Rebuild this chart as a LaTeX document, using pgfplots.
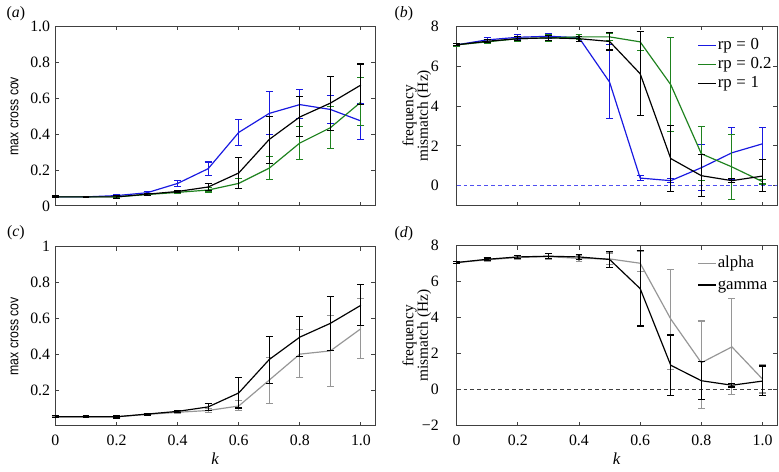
\documentclass[border=0pt]{standalone}
\usepackage{fontspec}
\setmainfont{Liberation Serif}
\newfontfamily\ysans[FakeStretch=0.85]{Liberation Sans}
\usepackage{pgfplots}
\usepackage{pgfplotstable}
\pgfplotsset{compat=1.18}
\definecolor{cblue}{RGB}{25,25,225}
\definecolor{cdash}{RGB}{80,80,240}
\definecolor{cgreen}{RGB}{30,130,30}
\definecolor{cgray}{RGB}{150,150,150}

\pgfplotstableread{
k m lo hi
0 0.05 0.047 0.053
0.1 0.05 0.047 0.053
0.2 0.057 0.052 0.062
0.3 0.073 0.067 0.079
0.4 0.125 0.11 0.139
0.5 0.207 0.169 0.244
0.6 0.409 0.334 0.482
0.7 0.515 0.395 0.636
0.8 0.564 0.485 0.646
0.9 0.537 0.46 0.617
1.0 0.473 0.372 0.569
}\covblue
\pgfplotstableread{
k m lo hi
0 0.05 0.047 0.053
0.1 0.05 0.047 0.053
0.2 0.05 0.046 0.055
0.3 0.063 0.058 0.068
0.4 0.075 0.07 0.08
0.5 0.088 0.077 0.1
0.6 0.125 0.097 0.152
0.7 0.21 0.145 0.275
0.8 0.35 0.259 0.44
0.9 0.435 0.317 0.553
1.0 0.578 0.45 0.715
}\covgreen
\pgfplotstableread{
k m lo hi
0 0.05 0.045 0.055
0.1 0.05 0.046 0.054
0.2 0.05 0.043 0.056
0.3 0.065 0.06 0.07
0.4 0.08 0.072 0.087
0.5 0.105 0.087 0.125
0.6 0.183 0.099 0.268
0.7 0.37 0.235 0.50
0.8 0.495 0.385 0.608
0.9 0.572 0.422 0.72
1.0 0.673 0.562 0.79
}\covblack
\pgfplotstableread{
k m lo hi
0 0.05 0.047 0.053
0.1 0.05 0.047 0.053
0.2 0.05 0.046 0.054
0.3 0.063 0.058 0.068
0.4 0.075 0.07 0.08
0.5 0.085 0.075 0.095
0.6 0.11 0.085 0.14
0.7 0.255 0.124 0.383
0.8 0.40 0.267 0.536
0.9 0.418 0.221 0.617
1.0 0.542 0.378 0.713
}\covgray
\pgfplotstableread{
k m lo hi
0 7.07 7.0 7.14
0.1 7.32 7.2 7.42
0.2 7.45 7.33 7.57
0.3 7.5 7.38 7.62
0.4 7.43 7.25 7.6
0.5 5.2 3.37 7.1
0.6 0.38 0.25 0.5
0.7 0.25 0.15 0.35
0.8 0.9 -0.25 2.07
0.9 1.65 0.3 2.94
1.0 2.1 1.3 2.9
}\fqblue
\pgfplotstableread{
k m lo hi
0 7.07 7.0 7.14
0.1 7.22 7.12 7.32
0.2 7.38 7.25 7.5
0.3 7.42 7.25 7.6
0.4 7.47 7.35 7.6
0.5 7.47 7.3 7.62
0.6 7.22 6.78 7.75
0.7 5.07 2.7 7.43
0.8 1.6 0.28 2.96
0.9 0.94 -0.68 2.55
1.0 0.2 0.08 0.32
}\fqgreen
\pgfplotstableread{
k m lo hi
0 7.07 7.02 7.12
0.1 7.25 7.18 7.32
0.2 7.38 7.28 7.48
0.3 7.42 7.3 7.55
0.4 7.38 7.25 7.5
0.5 7.24 6.81 7.69
0.6 5.62 3.54 7.75
0.7 1.36 -0.3 3.04
0.8 0.5 -0.55 1.55
0.9 0.25 0.15 0.35
1.0 0.48 -0.3 1.32
}\fqblack
\pgfplotstableread{
k m lo hi
0 7.07 7.02 7.12
0.1 7.22 7.12 7.32
0.2 7.35 7.22 7.48
0.3 7.4 7.25 7.55
0.4 7.3 7.15 7.45
0.5 7.27 6.95 7.6
0.6 7.03 6.58 7.71
0.7 3.93 1.13 6.7
0.8 1.5 -1.02 3.82
0.9 2.38 -0.27 5.06
1.0 0.59 -0.18 1.41
}\fqgray

\pgfplotsset{
  panel/.style={
    scale only axis,
    xmin=0, xmax=1.047,
    xtick={0,0.2,0.4,0.6,0.8,1.0},
    tick align=inside,
    major tick length=2pt,
    axis line style={black!75, line width=0.4pt},
    every tick/.style={black!75, line width=0.4pt},
    tick label style={font=\fontsize{8}{9}\selectfont},
    /pgf/number format/assume math mode=true,
    xticklabel style={yshift=-1.1pt},
    clip=false,
  },
  eb/.style={forget plot, line width=0.6pt, color=#1, error bars/.cd, y dir=both, y explicit,
    error bar style={line width=0.55pt, color=#1},
    error mark options={line width=0.55pt, mark size=1.75pt, rotate=90, color=#1}},
  table/ebtab/.style={x=k, y=m, y error plus expr=\thisrow{hi}-\thisrow{m}, y error minus expr=\thisrow{m}-\thisrow{lo}},
}

\begin{document}
\begin{tikzpicture}
\path (0,0) rectangle (389.5pt,-234pt);
\node[font=\fontsize{8}{9}\selectfont] at (4.2pt,-5pt) {(\textit{a})};
\node[font=\fontsize{8}{9}\selectfont] at (200.5pt,-5pt) {(\textit{b})};
\node[font=\fontsize{8}{9}\selectfont] at (4.2pt,-115.5pt) {(\textit{c})};
\node[font=\fontsize{8}{9}\selectfont] at (200.5pt,-116pt) {(\textit{d})};

% (a)
\begin{axis}[panel, at={(24.25pt,-102.15pt)}, anchor=south west,
  width=161.75pt, height=90.8pt,
  ymin=0, ymax=1, ytick={0,0.2,0.4,0.6,0.8,1.0},
  yticklabels={0,0.2,0.4,0.6,0.8,1.0}, xticklabels={},
  yticklabel style={xshift=0.8pt},
  ylabel={\ysans max cross cov},
  ylabel style={at={(axis description cs:-0.128,0.5)}, anchor=center, font=\fontsize{7.3}{8}\selectfont},
]
\addplot[eb=cblue] table[ebtab]{\covblue};
\addplot[eb=cgreen] table[ebtab]{\covgreen};
\addplot[eb=black] table[ebtab]{\covblack};
\end{axis}

% (b)
\begin{axis}[panel, at={(227.15pt,-102pt)}, anchor=south west,
  width=162pt, height=90.65pt,
  ymin=-1, ymax=8, ytick={0,2,4,6,8},
  yticklabels={0,2,4,6,8}, xticklabels={},
  yticklabel style={xshift=-5.5pt},
  ylabel={frequency\\mismatch (Hz)},
  ylabel style={at={(axis description cs:-0.124,0.5)}, anchor=center, align=center, font=\fontsize{7.8}{7.3}\selectfont},
  legend style={draw=none, fill=none, at={(axis description cs:0.745,0.955)}, anchor=north west,
    font=\fontsize{8.5}{9}\selectfont, row sep=0.8pt, inner sep=1pt,
    nodes={inner sep=0.5pt, text height=6pt, text depth=1.8pt}},
  legend cell align=left,
  legend image code/.code={\draw[line width=0.7pt, #1] (0pt,0pt) -- (9pt,0pt);},
]
\addplot[color=cdash, line width=0.55pt, dash pattern=on 2pt off 1.5pt, forget plot] coordinates {(0,0) (1.047,0)};
\addplot[eb=cblue] table[ebtab]{\fqblue};
\addplot[eb=cgreen] table[ebtab]{\fqgreen};
\addplot[eb=black] table[ebtab]{\fqblack};
\addlegendimage{color=cblue}
\addlegendentry{rp\;=\;0}
\addlegendimage{color=cgreen}
\addlegendentry{rp\;=\;0.2}
\addlegendimage{color=black}
\addlegendentry{rp\;=\;1}
\end{axis}

% (c)
\begin{axis}[panel, at={(24.25pt,-213.35pt)}, anchor=south west,
  width=161.75pt, height=90.5pt,
  ymin=0, ymax=1, ytick={0.2,0.4,0.6,0.8,1},
  yticklabels={0.2,0.4,0.6,0.8,1}, xticklabels={0,0.2,0.4,0.6,0.8,1.0},
  yticklabel style={xshift=0.8pt},
  ylabel={\ysans max cross cov},
  ylabel style={at={(axis description cs:-0.128,0.5)}, anchor=center, font=\fontsize{7.3}{8}\selectfont},
  xlabel={\textit{k}},
  xlabel style={at={(axis description cs:0.5,-0.185)}, anchor=center, font=\fontsize{8.5}{9}\selectfont},
]
\addplot[eb=cgray] table[ebtab]{\covgray};
\addplot[eb=black] table[ebtab]{\covblack};
\end{axis}

% (d)
\begin{axis}[panel, at={(227.15pt,-213.35pt)}, anchor=south west,
  width=162pt, height=91pt,
  ymin=-2, ymax=8, ytick={-2,0,2,4,6,8},
  yticklabels={−2,0,2,4,6,8}, xticklabels={0,0.2,0.4,0.6,0.8,1.0},
  yticklabel style={xshift=-5.5pt},
  ylabel={frequency\\mismatch (Hz)},
  ylabel style={at={(axis description cs:-0.124,0.5)}, anchor=center, align=center, font=\fontsize{7.8}{7.3}\selectfont},
  xlabel={\textit{k}},
  xlabel style={at={(axis description cs:0.5,-0.185)}, anchor=center, font=\fontsize{8.5}{9}\selectfont},
  legend style={draw=none, fill=none, at={(axis description cs:0.745,0.962)}, anchor=north west,
    font=\fontsize{8.5}{9}\selectfont, row sep=2pt, inner sep=1pt,
    nodes={inner sep=0.5pt, text height=6pt, text depth=1.8pt}},
  legend cell align=left,
  legend image code/.code={\draw[line width=0.7pt, #1] (0pt,0pt) -- (9pt,0pt);},
]
\addplot[color=black!75, line width=0.55pt, dash pattern=on 2pt off 1.5pt, forget plot] coordinates {(0,0) (1.047,0)};
\addplot[eb=cgray] table[ebtab]{\fqgray};
\addplot[eb=black] table[ebtab]{\fqblack};
\addlegendimage{color=cgray}
\addlegendentry{alpha}
\addlegendimage{color=black}
\addlegendentry{gamma}
\end{axis}
\end{tikzpicture}
\end{document}
